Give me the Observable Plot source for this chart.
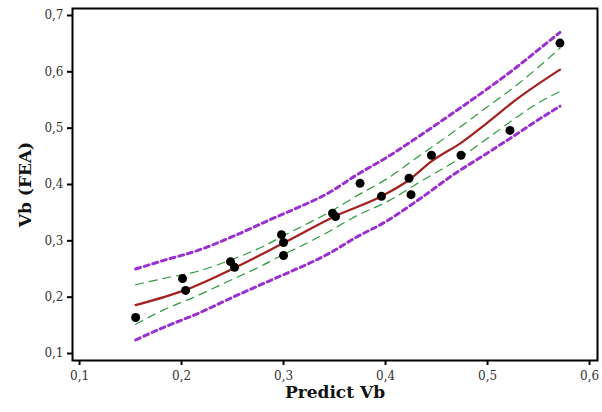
<!DOCTYPE html>
<html>
<head>
<meta charset="utf-8">
<script src="https://cdn.jsdelivr.net/npm/d3@7"></script>
<script src="https://cdn.jsdelivr.net/npm/@observablehq/plot@0.6"></script>
<style>
  html, body { margin: 0; padding: 0; background: #fff; }
</style>
</head>
<body>
<div id="chart"></div>
<script>
// Observed points
const predictVb = [0.155, 0.201, 0.204, 0.248, 0.252, 0.298, 0.300, 0.300, 0.348, 0.351, 0.375, 0.396, 0.423, 0.425, 0.445, 0.474, 0.522, 0.571];
const feaVb     = [0.164, 0.233, 0.212, 0.263, 0.253, 0.311, 0.297, 0.274, 0.349, 0.343, 0.402, 0.379, 0.411, 0.382, 0.452, 0.452, 0.496, 0.651];

// Fitted line
const fitX = [0.155, 0.204, 0.252, 0.300, 0.351, 0.396, 0.423, 0.445, 0.474, 0.500, 0.529, 0.571];
const fitY = [0.186, 0.213, 0.252, 0.296, 0.344, 0.379, 0.408, 0.441, 0.474, 0.510, 0.552, 0.604];

// Confidence (green) and prediction (purple) bands
const bandX   = [0.155, 0.182, 0.216, 0.248, 0.280, 0.300, 0.314, 0.346, 0.369, 0.402, 0.434, 0.467, 0.500, 0.529, 0.549, 0.571];
const piUpper = [0.250, 0.265, 0.283, 0.306, 0.332, 0.348, 0.359, 0.387, 0.414, 0.449, 0.487, 0.528, 0.570, 0.609, 0.638, 0.670];
const ciUpper = [0.222, 0.233, 0.246, 0.266, 0.290, 0.309, 0.322, 0.352, 0.377, 0.411, 0.452, 0.494, 0.538, 0.577, 0.607, 0.642];
const ciLower = [0.152, 0.177, 0.203, 0.230, 0.257, 0.276, 0.288, 0.318, 0.342, 0.370, 0.405, 0.440, 0.482, 0.520, 0.544, 0.565];
const piLower = [0.124, 0.146, 0.171, 0.198, 0.224, 0.240, 0.251, 0.279, 0.304, 0.336, 0.375, 0.418, 0.456, 0.490, 0.514, 0.539];

const xTicks = [0.1, 0.2, 0.3, 0.4, 0.5, 0.6];
const yTicks = [0.1, 0.2, 0.3, 0.4, 0.5, 0.6, 0.7];

const points = predictVb.map((x, i) => ({x, y: feaVb[i]}));
const fit = fitX.map((x, i) => ({x, y: fitY[i]}));
const band = bandX.map((x, i) => ({x, cu: ciUpper[i], cl: ciLower[i], pu: piUpper[i], pl: piLower[i]}));
const fmt = d => d.toFixed(1).replace(".", ",");

const chart = Plot.plot({
  width: 602,
  height: 412,
  marginLeft: 72,
  marginTop: 8,
  marginRight: 5,
  marginBottom: 52,
  style: {fontFamily: "'DejaVu Serif', serif", fontSize: "12px", color: "#333", background: "#fff"},
  x: {domain: [0.0931, 0.6078]},
  y: {domain: [0.0876, 0.7124]},
  marks: [
    Plot.line(band, {x: "x", y: "pu", stroke: "#9b30d0", strokeWidth: 3, strokeDasharray: "5,4", curve: "monotone-x"}),
    Plot.line(band, {x: "x", y: "pl", stroke: "#9b30d0", strokeWidth: 3, strokeDasharray: "5,4", curve: "monotone-x"}),
    Plot.line(band, {x: "x", y: "cu", stroke: "#2a9a3a", strokeWidth: 1.2, strokeDasharray: "8,6", curve: "monotone-x"}),
    Plot.line(band, {x: "x", y: "cl", stroke: "#2a9a3a", strokeWidth: 1.2, strokeDasharray: "8,6", curve: "monotone-x"}),
    Plot.line(fit, {x: "x", y: "y", stroke: "#a3201f", strokeWidth: 2.2, curve: "monotone-x"}),
    Plot.dot(points, {x: "x", y: "y", r: 4.5, fill: "#000", stroke: "none"}),
    Plot.frame({stroke: "#000", strokeWidth: 2}),
    Plot.axisX({ticks: xTicks, tickFormat: fmt, tickSize: 5, tickPadding: 6, stroke: "#000", strokeWidth: 2, label: null, fontSize: 12}),
    Plot.axisY({ticks: yTicks, tickFormat: fmt, tickSize: 5, tickPadding: 4, stroke: "#000", strokeWidth: 2, label: null, fontSize: 12}),
    Plot.text(["Predict Vb"], {frameAnchor: "bottom", dy: 37, fontWeight: "bold", fontSize: 17, fill: "#111"}),
    Plot.text(["Vb (FEA)"], {frameAnchor: "left", dx: -47, rotate: -90, textAnchor: "middle", fontWeight: "bold", fontSize: 17, fill: "#111"})
  ]
});
document.getElementById("chart").appendChild(chart);
</script>
</body>
</html>
